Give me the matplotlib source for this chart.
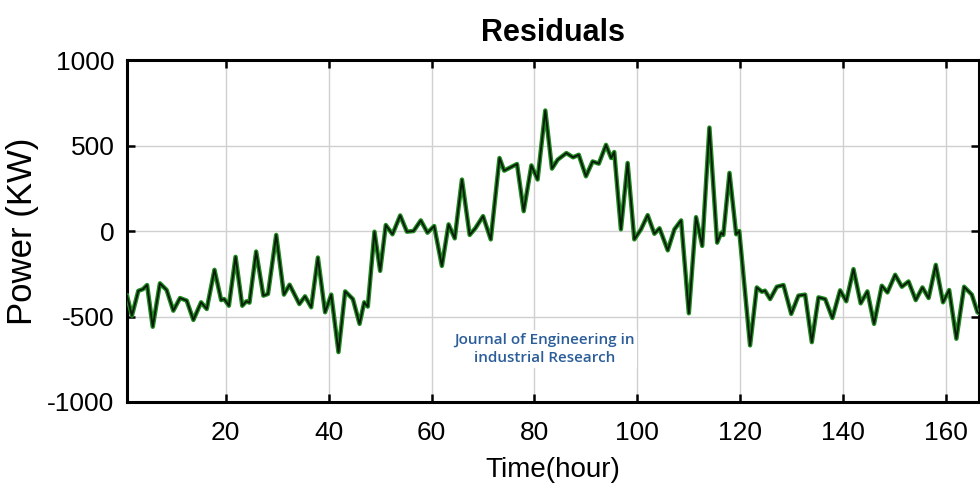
import matplotlib
matplotlib.use("Agg")
import matplotlib.pyplot as plt

plt.rcParams["axes.unicode_minus"] = False

# residual values (hour, kW)
hours = [0.8, 1.75, 3.0, 3.9, 4.7, 5.8, 7.2, 8.5, 9.8, 11.1, 12.4, 13.7, 15.2, 16.3,
         17.8, 19.1, 19.7, 20.6, 21.9, 23.2, 24.0, 24.6, 25.9, 27.3, 28.2, 29.8,
         31.3, 32.4, 34.3, 35.4, 36.6, 37.9, 39.3, 40.5, 41.9, 43.2, 44.7, 46.0,
         46.9, 47.6, 48.9, 50.0, 51.1, 52.4, 53.9, 55.2, 56.5, 57.9, 59.2, 60.5,
         62.0, 63.3, 64.5, 65.9, 67.4, 68.5, 70.0, 71.5, 73.2, 74.1, 75.3, 76.6,
         77.9, 79.4, 80.6, 82.1, 83.4, 84.5, 86.2, 87.5, 88.6, 90.0, 91.3, 92.5,
         93.9, 94.9, 95.5, 96.8, 98.1, 99.4, 100.7, 102.0, 103.3, 104.3, 105.9,
         107.2, 108.5, 110.0, 111.4, 112.6, 114.0, 115.5, 116.3, 116.7, 117.9,
         119.2, 119.8, 121.9, 123.2, 124.2, 124.8, 125.8, 127.1, 128.4, 129.9,
         131.3, 132.6, 133.9, 135.2, 136.5, 137.9, 139.4, 140.6, 142.0, 143.4,
         144.7, 146.0, 147.5, 148.6, 150.1, 151.4, 152.7, 154.1, 155.4, 156.6,
         158.0, 159.4, 160.6, 162.0, 163.5, 165.0, 166.1, 167.0]
residuals = [-378, -495, -350, -340, -316, -560, -306, -345, -466, -392, -407, -520,
             -417, -456, -227, -404, -398, -437, -151, -437, -411, -419, -120, -378,
             -368, -23, -372, -314, -427, -382, -446, -155, -475, -372, -708, -353,
             -398, -543, -417, -442, -4, -233, 35, -19, 91, -4, 0, 62, -10, 29,
             -204, 39, -43, 301, -23, 16, 87, -49, 427, 353, 372, 392, 116, 384,
             301, 705, 365, 417, 456, 431, 446, 320, 407, 394, 504, 427, 462, 10,
             398, -49, 10, 93, -16, 16, -113, 10, 62, -481, 81, -87, 605, -68, -10,
             -23, 340, -19, 0, -669, -330, -355, -349, -398, -326, -316, -485,
             -378, -372, -650, -388, -398, -509, -347, -411, -223, -423, -353,
             -543, -320, -359, -256, -326, -295, -404, -330, -392, -198, -417,
             -345, -630, -326, -372, -475, -490]

x_ticks = [20, 40, 60, 80, 100, 120, 140, 160]
y_ticks = [-1000, -500, 0, 500, 1000]

fig = plt.figure(figsize=(9.8, 4.93), dpi=100)
ax = fig.add_axes([0.1296, 0.1846, 0.8694, 0.6936])

ax.plot(hours, residuals, color="#1f8a1f", lw=3.2, solid_joinstyle="round", zorder=3)
ax.plot(hours, residuals, color="#0a1a0a", lw=1.3, solid_joinstyle="round", zorder=4)

ax.set_xlim(0.8, 166.4)
ax.set_ylim(-1000, 1000)
ax.set_xticks(x_ticks)
ax.set_yticks(y_ticks)
ax.grid(True, color="#d0d0d0", lw=1.0)
ax.tick_params(direction="in", length=6, width=1.8, top=True, right=True,
               labelsize=19)
ax.tick_params(axis="x", pad=14)
ax.tick_params(axis="y", pad=9)
for s in ax.spines.values():
    s.set_linewidth(2.2)

for lab in ax.get_xticklabels() + ax.get_yticklabels():
    lab.set_family("Liberation Sans")

ax.set_title("Residuals", fontsize=22, fontweight="bold", family="Liberation Sans", pad=14)
ax.set_xlabel("Time(hour)", fontsize=20, family="Liberation Sans", labelpad=8)
ax.set_ylabel("Power (KW)", fontsize=25, family="Liberation Sans", labelpad=6)

# watermark
ax.text(0.49, 0.155, "Journal of Engineering in\nindustrial Research",
        transform=ax.transAxes, ha="center", va="center", fontsize=11,
        color="#2a5d99", fontweight="semibold", family="Open Sans",
        linespacing=1.35, zorder=5,
        bbox=dict(facecolor="white", edgecolor="none", pad=2))

fig.savefig("out.png", dpi=100)
